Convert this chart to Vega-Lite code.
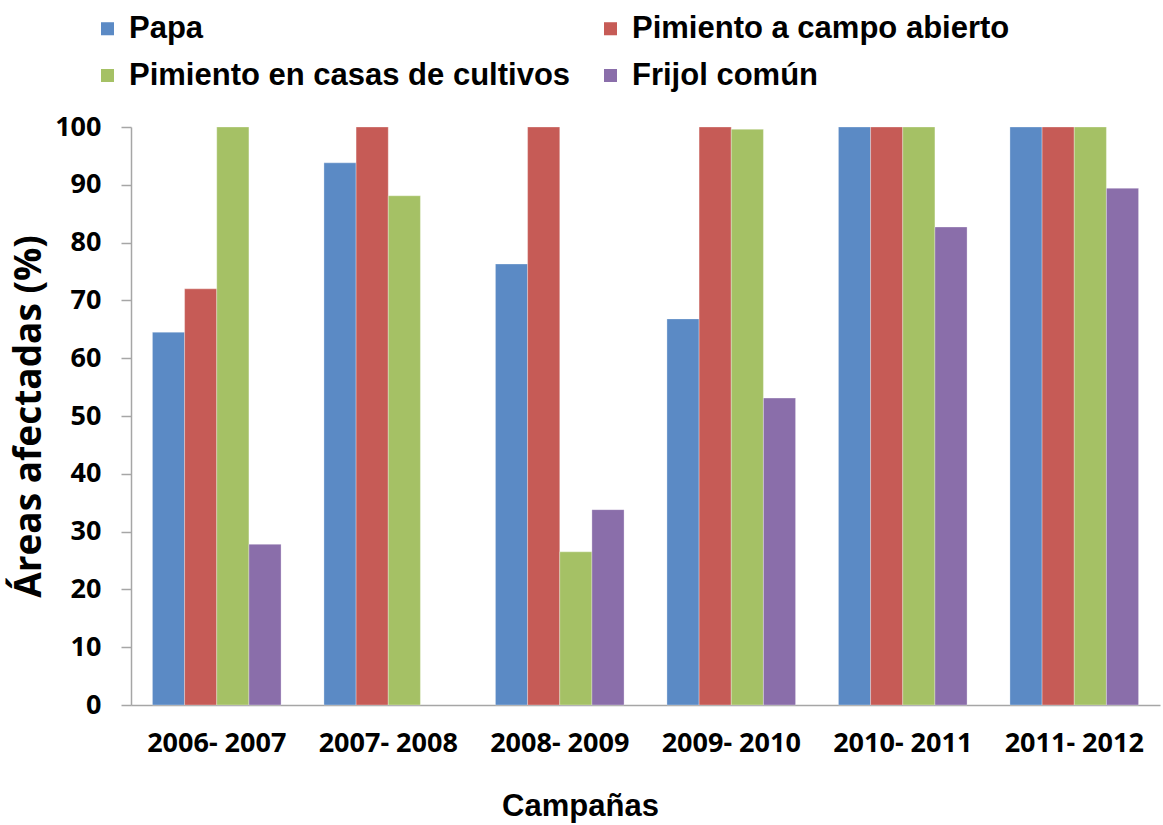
{
  "$schema": "https://vega.github.io/schema/vega-lite/v6.json",
  "autosize": "none",
  "width": 1029,
  "height": 578,
  "padding": {"left": 131, "top": 127, "right": 3, "bottom": 120},
  "background": "white",
  "config": {"view": {"stroke": null}},
  "data": {
    "values": [
      {"campana": "2006- 2007", "cultivo": "Papa", "valor": 64.5},
      {"campana": "2006- 2007", "cultivo": "Pimiento a campo abierto", "valor": 72},
      {"campana": "2006- 2007", "cultivo": "Pimiento en casas de cultivos", "valor": 100},
      {"campana": "2006- 2007", "cultivo": "Frijol común", "valor": 27.8},
      {"campana": "2007- 2008", "cultivo": "Papa", "valor": 93.8},
      {"campana": "2007- 2008", "cultivo": "Pimiento a campo abierto", "valor": 100},
      {"campana": "2007- 2008", "cultivo": "Pimiento en casas de cultivos", "valor": 88.1},
      {"campana": "2008- 2009", "cultivo": "Papa", "valor": 76.3},
      {"campana": "2008- 2009", "cultivo": "Pimiento a campo abierto", "valor": 100},
      {"campana": "2008- 2009", "cultivo": "Pimiento en casas de cultivos", "valor": 26.5},
      {"campana": "2008- 2009", "cultivo": "Frijol común", "valor": 33.8},
      {"campana": "2009- 2010", "cultivo": "Papa", "valor": 66.8},
      {"campana": "2009- 2010", "cultivo": "Pimiento a campo abierto", "valor": 100},
      {"campana": "2009- 2010", "cultivo": "Pimiento en casas de cultivos", "valor": 99.6},
      {"campana": "2009- 2010", "cultivo": "Frijol común", "valor": 53.1},
      {"campana": "2010- 2011", "cultivo": "Papa", "valor": 100},
      {"campana": "2010- 2011", "cultivo": "Pimiento a campo abierto", "valor": 100},
      {"campana": "2010- 2011", "cultivo": "Pimiento en casas de cultivos", "valor": 100},
      {"campana": "2010- 2011", "cultivo": "Frijol común", "valor": 82.7},
      {"campana": "2011- 2012", "cultivo": "Papa", "valor": 100},
      {"campana": "2011- 2012", "cultivo": "Pimiento a campo abierto", "valor": 100},
      {"campana": "2011- 2012", "cultivo": "Pimiento en casas de cultivos", "valor": 100},
      {"campana": "2011- 2012", "cultivo": "Frijol común", "valor": 89.4}
    ]
  },
  "mark": {"type": "bar", "strokeWidth": 0.6, "stroke": "white", "strokeOpacity": 0.5},
  "encoding": {
    "x": {
      "field": "campana",
      "type": "nominal",
      "sort": null,
      "scale": {"paddingInner": 0.25, "paddingOuter": 0.125},
      "axis": {
        "title": "Campañas",
        "titleFont": "Liberation Sans",
        "titleFontSize": 31,
        "titleFontWeight": "bold",
        "titleColor": "black",
        "titleX": 449,
        "titleY": 101,
        "titleBaseline": "middle",
        "labelAngle": 0,
        "labelFont": "Open Sans",
        "labelFontSize": 27,
        "labelFontWeight": "bold",
        "labelColor": "black",
        "labelPadding": 25,
        "ticks": false,
        "domainColor": "#a6a6a6",
        "domainWidth": 1.5
      }
    },
    "xOffset": {
      "field": "cultivo",
      "type": "nominal",
      "sort": ["Papa", "Pimiento a campo abierto", "Pimiento en casas de cultivos", "Frijol común"],
      "scale": {"paddingInner": 0, "paddingOuter": 0}
    },
    "y": {
      "field": "valor",
      "type": "quantitative",
      "scale": {"domain": [0, 100], "nice": false},
      "axis": {
        "title": "Áreas afectadas (%)",
        "titleFont": "Open Sans",
        "titleFontSize": 37,
        "titleFontWeight": "bold",
        "titleColor": "black",
        "titlePadding": 6,
        "values": [0, 10, 20, 30, 40, 50, 60, 70, 80, 90, 100],
        "grid": false,
        "tickSize": 10,
        "tickColor": "#a6a6a6",
        "tickWidth": 1.5,
        "domainColor": "#a6a6a6",
        "domainWidth": 1.5,
        "labelFont": "Open Sans",
        "labelFontSize": 27,
        "labelFontWeight": "bold",
        "labelColor": "black",
        "labelPadding": 20
      }
    },
    "color": {
      "field": "cultivo",
      "type": "nominal",
      "scale": {
        "domain": ["Papa", "Pimiento a campo abierto", "Pimiento en casas de cultivos", "Frijol común"],
        "range": ["#5B8AC5", "#C65B56", "#A5C165", "#8A6EAA"]
      },
      "legend": {
        "title": null,
        "orient": "none",
        "legendX": -39,
        "legendY": -114,
        "direction": "horizontal",
        "columns": 2,
        "columnPadding": 24,
        "rowPadding": 15,
        "symbolType": "square",
        "symbolSize": 170,
        "symbolStrokeWidth": 0,
        "symbolOpacity": 1,
        "labelFont": "Liberation Sans",
        "labelFontSize": 31,
        "labelFontWeight": "bold",
        "labelColor": "black",
        "labelOffset": 6,
        "labelLimit": 600
      }
    }
  }
}
